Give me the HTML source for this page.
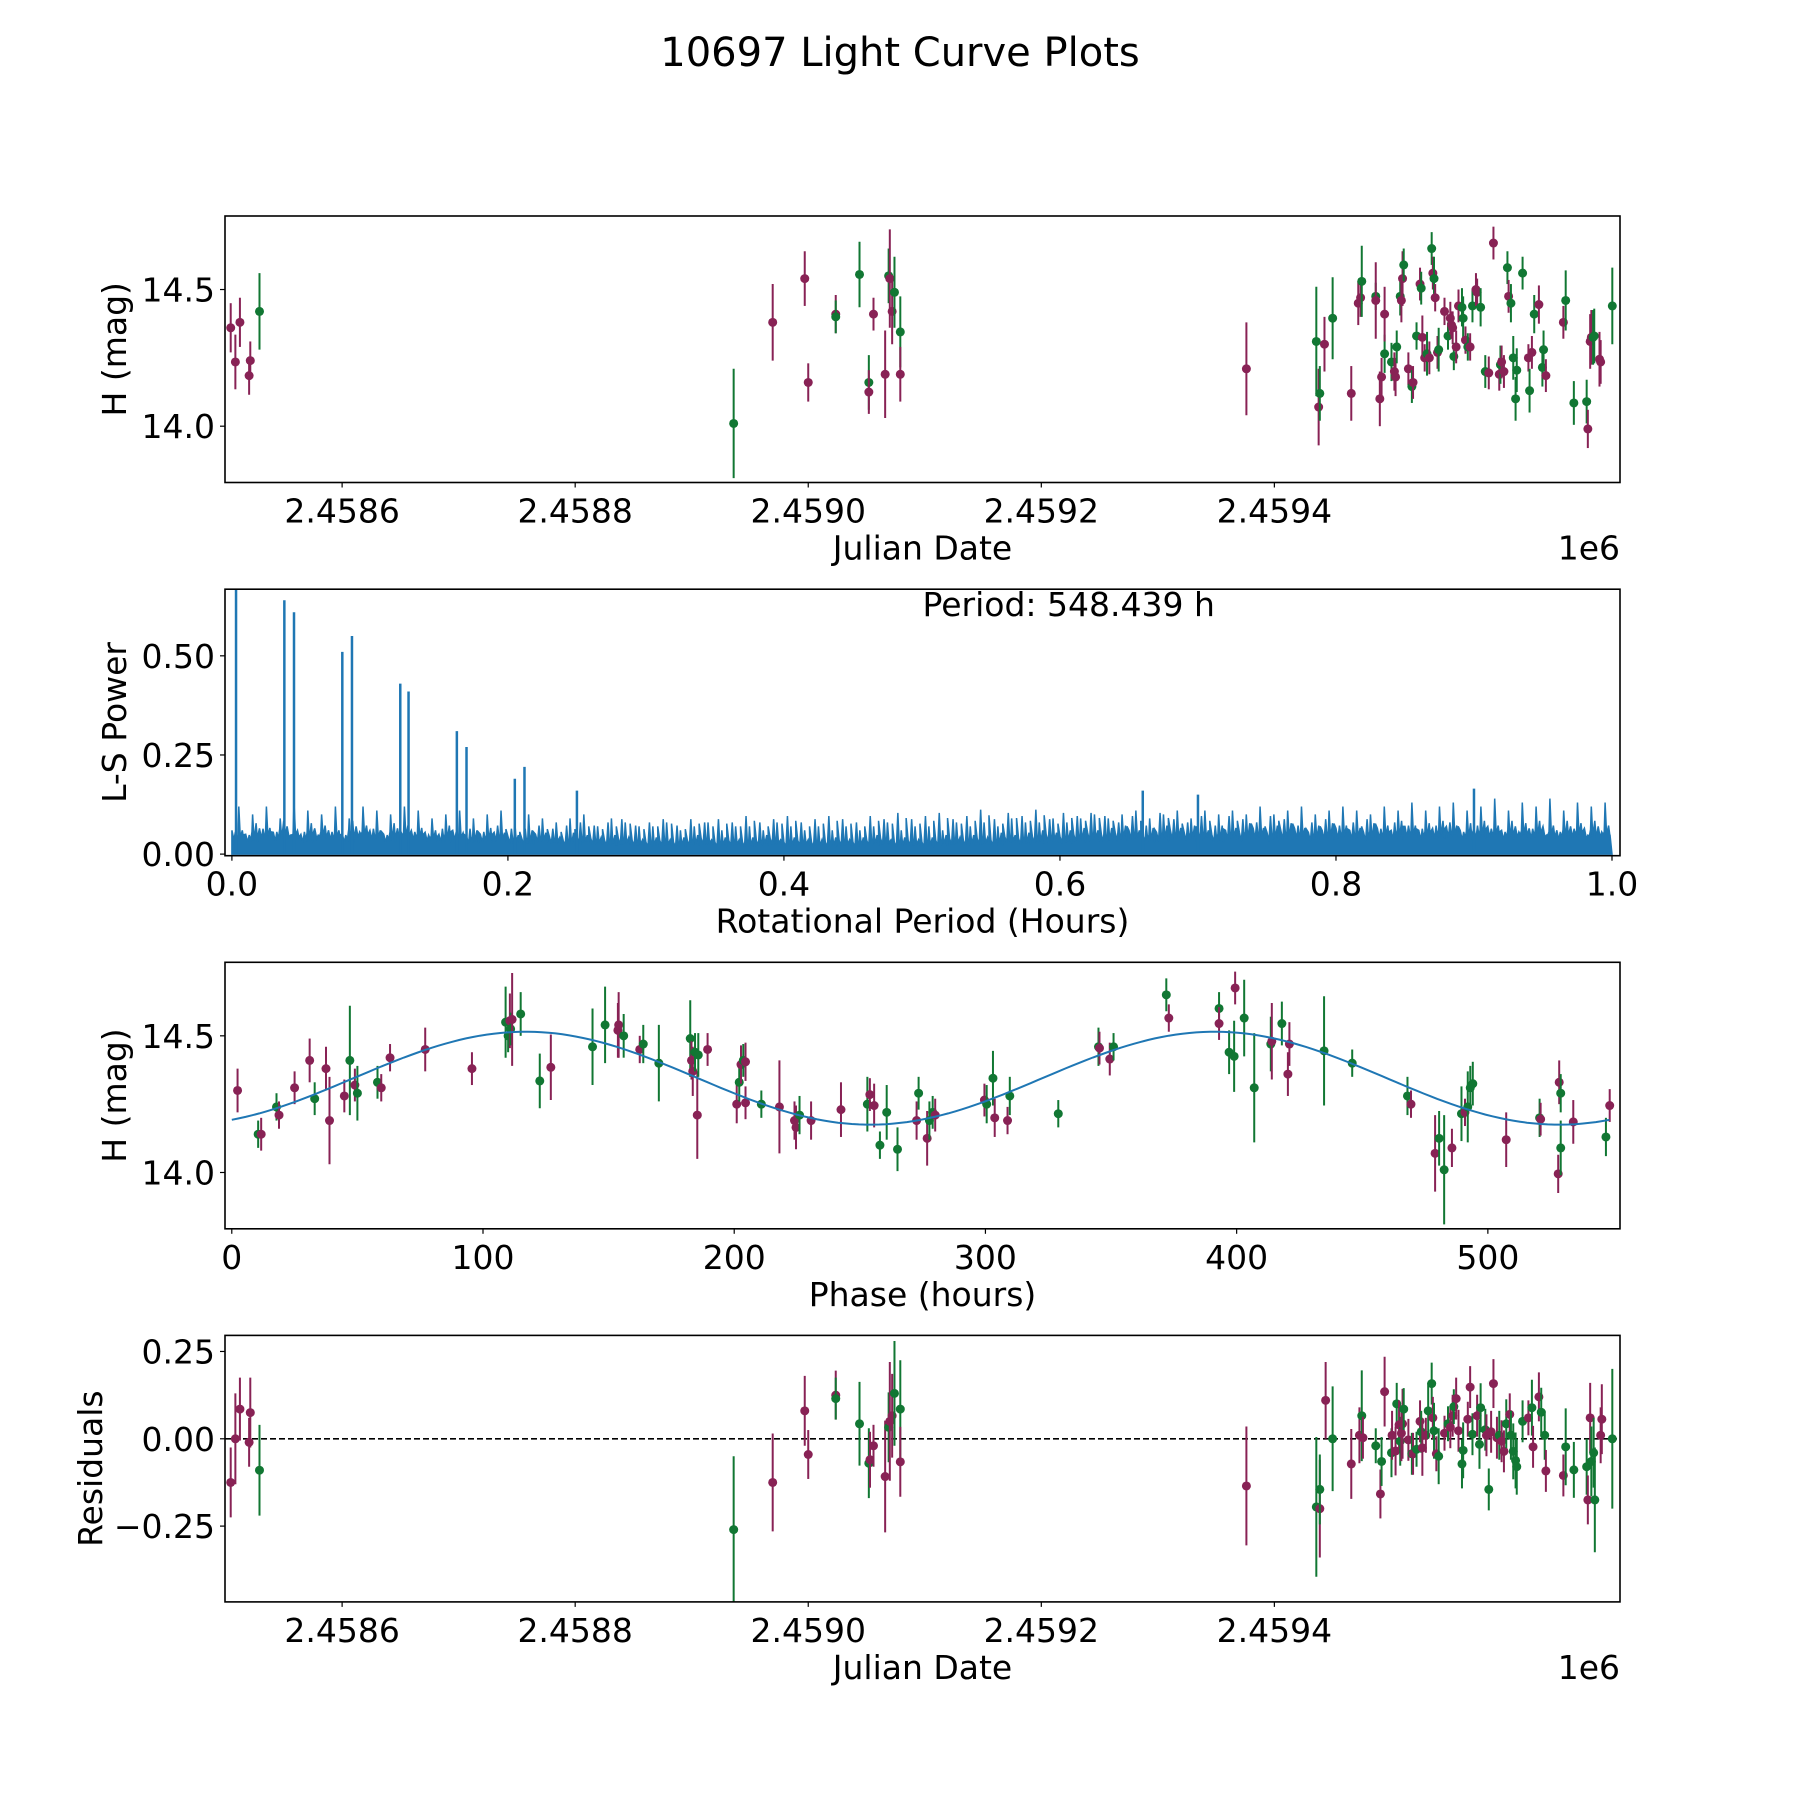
<!DOCTYPE html>
<html><head><meta charset="utf-8"><style>
html,body{margin:0;padding:0;background:#fff}
svg{display:block;font-family:"DejaVu Sans","Liberation Sans",sans-serif}
</style></head><body>
<svg id="fig" width="1800" height="1800" viewBox="0 0 1800 1800" xmlns="http://www.w3.org/2000/svg">
<rect width="1800" height="1800" fill="#fff"/>
<text x="900" y="66" font-size="40" text-anchor="middle">10697 Light Curve Plots</text>
</svg>
<script>
// ---------- data ----------
const lcDays=[-95.6,-91.6,-87.7,-79.8,-78.8,-70.9,336,369.5,397,400,423.6,423.6,444,452,452,456,466,469,470,472,474,479,479,776,836,838,839,843,850,866,872,874,875,887,887,890.5,892,894.6,894.6,900.5,903,904,905,908,909,910,911,915,918,919,922,925,926,927,929,931,933,935,936,937,938,940,941,946,949,951,952,953,954,956,958,961,962,964,966,968,970,973,974,977,981,984,988,993,994,995,997,1000,1001,1003,1005,1007,1008,1013,1018,1019,1021,1023,1027,1030,1031,1033,1048,1050,1057,1068,1069,1071,1072,1073.5,1074.5,1079,1080,1090];
const lcMag=[14.36,14.235,14.38,14.185,14.24,14.42,14.01,14.38,14.54,14.16,14.41,14.40,14.555,14.16,14.125,14.41,14.19,14.55,14.54,14.42,14.49,14.345,14.19,14.21,14.31,14.07,14.12,14.30,14.395,14.12,14.45,14.47,14.53,14.475,14.46,14.10,14.18,14.265,14.41,14.235,14.2,14.18,14.29,14.475,14.46,14.54,14.59,14.21,14.145,14.16,14.33,14.52,14.505,14.325,14.25,14.265,14.25,14.65,14.56,14.54,14.47,14.27,14.28,14.42,14.33,14.395,14.37,14.36,14.255,14.29,14.44,14.435,14.395,14.315,14.29,14.29,14.44,14.5,14.49,14.435,14.2,14.195,14.67,14.19,14.225,14.235,14.2,14.58,14.475,14.45,14.25,14.1,14.205,14.56,14.25,14.13,14.27,14.41,14.445,14.215,14.28,14.185,14.38,14.46,14.085,14.09,13.99,14.31,14.325,14.325,14.33,14.245,14.235,14.44];
const lcErr=[0.09,0.1,0.09,0.07,0.07,0.14,0.2,0.14,0.1,0.07,0.07,0.06,0.12,0.1,0.08,0.06,0.16,0.1,0.18,0.12,0.13,0.13,0.1,0.17,0.2,0.14,0.1,0.1,0.15,0.1,0.08,0.07,0.13,0.05,0.14,0.1,0.07,0.07,0.1,0.07,0.07,0.07,0.06,0.07,0.08,0.1,0.06,0.06,0.06,0.06,0.05,0.06,0.06,0.08,0.05,0.08,0.06,0.06,0.06,0.08,0.05,0.06,0.08,0.05,0.05,0.06,0.05,0.06,0.05,0.06,0.06,0.07,0.08,0.05,0.05,0.05,0.06,0.06,0.05,0.07,0.06,0.06,0.06,0.06,0.07,0.06,0.06,0.06,0.06,0.07,0.08,0.08,0.08,0.06,0.05,0.08,0.06,0.07,0.07,0.07,0.07,0.06,0.06,0.11,0.08,0.08,0.07,0.1,0.1,0.1,0.1,0.1,0.08,0.14];
const lcCol=[0,0,0,0,0,1,1,0,0,0,0,1,1,1,0,0,0,1,0,0,1,1,0,0,1,0,1,0,1,0,0,0,1,1,0,0,0,1,0,1,0,0,1,1,0,0,1,0,1,0,1,0,1,0,0,1,0,1,0,1,0,0,1,0,1,0,0,0,1,0,0,1,1,0,1,0,1,0,0,1,1,0,0,0,1,0,0,1,0,1,1,1,1,1,0,1,0,1,0,1,1,0,0,1,1,1,0,0,0,1,1,0,0,1];

const lsPeakPeriod=[0.003,0.038,0.045,0.080,0.087,0.122,0.128,0.163,0.170,0.205,0.212,0.250,0.660,0.700,0.900];
const lsPeakPower=[0.70,0.64,0.61,0.51,0.55,0.43,0.41,0.31,0.27,0.19,0.22,0.16,0.16,0.15,0.165];
const lsBase=[0.06,0.05,0.065,0.055,0.07,0.05,0.065,0.06,0.05,0.07,0.06,0.05,0.065,0.06,0.055,0.05,0.06,0.045,0.05,0.055,0.045,0.04,0.05,0.045,0.035,0.045,0.04,0.035,0.04,0.035,0.03,0.035,0.03,0.035,0.04,0.03,0.035,0.03,0.035,0.04,0.03,0.035,0.03,0.03,0.035,0.03,0.035,0.04,0.03,0.035,0.03,0.035,0.04,0.035,0.04,0.035,0.045,0.04,0.045,0.05,0.045,0.05,0.055,0.05,0.055,0.06,0.05,0.055,0.06,0.055,0.06,0.05,0.06,0.055,0.065,0.055,0.06,0.065,0.055,0.06,0.065,0.06,0.055,0.065,0.06,0.07,0.06,0.065,0.07,0.06,0.065,0.07,0.06,0.07,0.065,0.07,0.06,0.07,0.065,0.07];
const lsSpike=[0.12,0.10,0.12,0.09,0.13,0.11,0.10,0.12,0.09,0.12,0.11,0.10,0.12,0.11,0.09,0.10,0.11,0.09,0.10,0.11,0.08,0.10,0.09,0.08,0.09,0.10,0.07,0.09,0.08,0.07,0.07,0.08,0.06,0.07,0.08,0.06,0.07,0.07,0.06,0.08,0.07,0.06,0.07,0.06,0.07,0.06,0.07,0.08,0.06,0.07,0.07,0.06,0.08,0.07,0.08,0.07,0.09,0.08,0.08,0.09,0.08,0.09,0.10,0.09,0.10,0.11,0.09,0.10,0.11,0.09,0.11,0.10,0.11,0.10,0.12,0.10,0.11,0.12,0.10,0.11,0.12,0.11,0.10,0.12,0.11,0.13,0.11,0.12,0.13,0.11,0.12,0.14,0.11,0.13,0.12,0.14,0.11,0.13,0.12,0.13];

const phPhase=[2.3,10.5,11.7,17.8,18.8,25,31,33,37.5,38.9,44.8,47,49,50,58,59.5,63,77,95.6,109,110,110.7,111,111.6,115,122.6,127,143.6,148.6,153.7,154,156,162.4,163.8,170,182.5,183,183.5,184.4,185.3,185.7,189.4,201,202,202.7,203.6,204.5,204.5,210.8,218,224,224.6,226,230.6,242.5,253,254,255.7,258,260.7,265,272.6,273.4,276.8,277.7,279,280,299.6,300.5,303,303.7,308.8,309.7,329,345,345.4,349.5,351,372,373,393,393,397,399,399.4,403,407,413.6,414,418,420.4,421,434.8,446,468,469.4,479,480.6,482.6,485.7,489.5,490.9,492,493,494,507.3,520.6,521,528,529,528.4,529,534,547,548.5];
const phMag=[14.30,14.14,14.14,14.24,14.21,14.31,14.41,14.27,14.38,14.19,14.28,14.41,14.32,14.29,14.33,14.31,14.42,14.45,14.38,14.55,14.5,14.555,14.525,14.56,14.58,14.335,14.385,14.46,14.54,14.52,14.54,14.5,14.45,14.47,14.40,14.49,14.41,14.37,14.44,14.21,14.43,14.45,14.25,14.33,14.395,14.41,14.255,14.405,14.25,14.24,14.19,14.165,14.21,14.19,14.23,14.25,14.285,14.245,14.10,14.22,14.085,14.19,14.29,14.125,14.19,14.22,14.21,14.265,14.25,14.345,14.2,14.19,14.28,14.215,14.46,14.455,14.415,14.46,14.65,14.565,14.6,14.545,14.44,14.425,14.675,14.565,14.31,14.47,14.48,14.545,14.36,14.47,14.445,14.4,14.28,14.25,14.07,14.125,14.01,14.09,14.215,14.22,14.24,14.31,14.325,14.12,14.2,14.195,13.995,14.09,14.33,14.29,14.185,14.13,14.245];
const phErr=[0.08,0.05,0.06,0.05,0.05,0.06,0.08,0.06,0.08,0.16,0.06,0.2,0.06,0.1,0.06,0.05,0.05,0.08,0.06,0.13,0.06,0.1,0.06,0.17,0.08,0.1,0.12,0.14,0.14,0.1,0.12,0.08,0.05,0.07,0.14,0.14,0.07,0.09,0.07,0.16,0.08,0.06,0.07,0.07,0.07,0.06,0.06,0.07,0.05,0.17,0.07,0.08,0.07,0.07,0.1,0.1,0.06,0.08,0.05,0.1,0.08,0.07,0.06,0.1,0.07,0.06,0.06,0.06,0.07,0.1,0.07,0.05,0.07,0.05,0.07,0.06,0.06,0.05,0.06,0.05,0.06,0.06,0.08,0.13,0.06,0.14,0.2,0.1,0.14,0.08,0.08,0.08,0.2,0.05,0.07,0.05,0.14,0.1,0.2,0.07,0.1,0.05,0.13,0.08,0.08,0.1,0.07,0.06,0.07,0.1,0.08,0.07,0.08,0.07,0.06];
const phCol=[0,1,0,1,0,0,0,1,0,0,0,1,0,1,1,0,0,0,0,1,1,0,1,0,1,1,0,1,1,0,0,1,0,1,1,1,0,0,1,0,1,0,0,1,0,1,0,0,1,0,0,0,1,0,0,1,0,0,1,1,1,0,1,0,1,1,0,0,1,1,0,0,1,1,1,0,0,1,1,0,1,0,1,1,0,1,1,1,0,1,0,0,1,1,1,0,0,1,1,0,1,0,1,1,1,0,1,0,0,1,0,1,0,1,0];
const fitMean=14.345, fitAmp=0.17, fitPeak=117, fitPeriod=274.22;

const resDays=[-95.6,-91.6,-87.7,-79.8,-78.8,-70.9,336,369.5,397,400,423.6,423.6,444,452,453,456,466,469,470,472,474,479,479,776,836,839,839,844,850,866,873,875,876,887,891,892,894.6,900.5,901,904,905,907,908,909,910,911,915,918,919,922,925,926,927,930,932,935,936,937,939,941,946,949,951,953,954,956,958,961,962,966,968,970,974,976,977,981,982,984,986,988,991,993,995,997,999,1002,1003,1005,1007,1008,1013,1018,1021,1022,1027,1029,1032,1033,1048,1050,1057,1068,1069,1071,1072,1074,1075,1080,1081,1090];
const resVal=[-0.125,0.0,0.085,-0.01,0.075,-0.09,-0.26,-0.125,0.08,-0.045,0.125,0.115,0.043,-0.07,-0.06,-0.02,-0.108,0.033,0.05,0.066,0.13,0.085,-0.066,-0.135,-0.195,-0.2,-0.145,0.11,0.0,-0.072,0.01,0.066,0.003,-0.02,-0.158,-0.065,0.135,-0.04,0.01,-0.035,0.1,0.04,-0.007,0.016,0.043,0.085,-0.003,-0.043,-0.043,-0.03,0.05,0.02,-0.026,0.01,0.08,0.158,0.06,0.023,-0.043,-0.05,0.016,0.043,0.033,0.066,0.092,0.115,0.023,-0.072,-0.033,0.056,0.148,0.013,0.066,-0.016,0.089,0.026,0.01,-0.145,0.02,0.158,0.003,0.01,-0.007,-0.036,0.043,0.07,0.01,-0.036,-0.062,-0.08,0.05,0.06,0.089,-0.023,0.12,0.076,0.01,-0.092,-0.105,-0.023,-0.089,-0.08,-0.175,0.06,-0.065,-0.04,-0.175,0.01,0.056,0.0];
const resErr=[0.1,0.13,0.09,0.07,0.1,0.13,0.21,0.14,0.1,0.07,0.07,0.06,0.12,0.1,0.08,0.06,0.16,0.1,0.17,0.12,0.15,0.14,0.1,0.17,0.2,0.14,0.1,0.11,0.15,0.1,0.08,0.13,0.06,0.05,0.07,0.07,0.1,0.07,0.07,0.07,0.06,0.07,0.07,0.08,0.1,0.06,0.06,0.06,0.06,0.05,0.06,0.06,0.08,0.05,0.08,0.06,0.06,0.08,0.05,0.08,0.05,0.05,0.06,0.06,0.05,0.06,0.06,0.07,0.08,0.05,0.06,0.06,0.06,0.07,0.07,0.06,0.06,0.06,0.06,0.07,0.06,0.07,0.06,0.06,0.07,0.06,0.07,0.08,0.08,0.08,0.06,0.05,0.08,0.06,0.07,0.07,0.07,0.06,0.06,0.11,0.08,0.08,0.07,0.1,0.1,0.1,0.15,0.08,0.1,0.2];
const resCol=[0,0,0,0,0,1,1,0,0,0,0,1,1,1,0,0,0,1,0,0,1,1,0,0,1,0,1,0,1,0,0,1,0,1,0,1,0,1,0,0,1,0,1,0,0,1,0,1,0,1,0,1,0,0,1,1,0,1,0,1,0,1,0,0,1,0,0,1,1,0,0,1,0,1,1,1,0,1,0,0,0,1,0,0,1,0,1,1,1,1,1,0,1,0,0,1,1,0,0,1,1,1,0,0,1,1,1,0,0,1];

const jdTicks=[2458600,2458800,2459000,2459200,2459400];
const jdTickLabels=["2.4586","2.4588","2.4590","2.4592","2.4594"];
const magTicks=[14.0,14.5];
const magTickLabels=["14.0","14.5"];
const lsXTicks=[0,0.2,0.4,0.6,0.8,1.0];
const lsXTickLabels=["0.0","0.2","0.4","0.6","0.8","1.0"];
const lsYTicks=[0,0.25,0.5];
const lsYTickLabels=["0.00","0.25","0.50"];
const phXTicks=[0,100,200,300,400,500];
const phXTickLabels=["0","100","200","300","400","500"];
const resYTicks=[-0.25,0,0.25];
const resYTickLabels=["\u22120.25","0.00","0.25"];

// ---------- drawing ----------
const NS="http://www.w3.org/2000/svg";
const fig=document.getElementById('fig');
const COLORS=["#882255","#117733"];
function mk(tag,attrs,parent){const e=document.createElementNS(NS,tag);for(const k in attrs)e.setAttribute(k,attrs[k]);(parent||fig).appendChild(e);return e;}
const L=225,R=1620,H=266.5;
const tops=[216,589.2,962.3,1335.4];
function lin(d0,d1,r0,r1){return v=>r0+(v-d0)*(r1-r0)/(d1-d0);}

function axesFrame(i,name){
  const g=mk('g',{});
  
  
  const cid='clip'+i;
  const cp=mk('clipPath',{id:cid},g);
  mk('rect',{x:L,y:tops[i],width:R-L,height:H},cp);
  const plot=mk('g',{'clip-path':'url(#'+cid+')'},g);
  return {g,plot};
}
function frameBorder(g,i){
  const r=mk('rect',{x:L,y:tops[i],width:R-L,height:H,fill:'none',stroke:'#000','stroke-width':1.6},g);
  
  
}
function xTicks(g,i,sx,ticks,labels){
  const b=tops[i]+H;
  ticks.forEach((t,k)=>{
    const x=sx(t);
    mk('line',{x1:x,x2:x,y1:b,y2:b+5,stroke:'#000','stroke-width':1.2},g);
    const tx=mk('text',{x:x,y:b+40,'font-size':33,'text-anchor':'middle'},g);
    tx.textContent=labels[k];
    
    
  });
}
function yTicks(g,i,sy,ticks,labels){
  ticks.forEach((t,k)=>{
    const y=sy(t);
    mk('line',{x1:L-5,x2:L,y1:y,y2:y,stroke:'#000','stroke-width':1.2},g);
    const tx=mk('text',{x:L-10,y:y+12,'font-size':33,'text-anchor':'end'},g);
    tx.textContent=labels[k];
    
    
  });
}
function xLabel(g,i,txt,name){
  const t=mk('text',{x:(L+R)/2,y:tops[i]+H+77,'font-size':33,'text-anchor':'middle'},g);
  t.textContent=txt;
  
  
}
function yLabel(g,i,txt,x,name){
  const cy=tops[i]+H/2;
  const t=mk('text',{x:x,y:cy,'font-size':33,'text-anchor':'middle',transform:'rotate(-90 '+x+' '+cy+')'},g);
  t.textContent=txt;
  
  
}
function offsetLabel(g,i){
  const t=mk('text',{x:R,y:tops[i]+H+77,'font-size':33,'text-anchor':'end'},g);
  t.textContent='1e6';
  
  
}
function errPoints(plot,xs,ys,es,cs,sx,sy){
  xs.forEach((xv,k)=>{
    const x=sx(xv),c=COLORS[cs[k]];
    const l=mk('line',{x1:x,x2:x,y1:sy(ys[k]-es[k]),y2:sy(ys[k]+es[k]),stroke:c,'stroke-width':2},plot);
    
    
    const p=mk('circle',{cx:x,cy:sy(ys[k]),r:4.5,fill:c},plot);
    
    
  });
}

// panel 1
(function(){
  const i=0,{g,plot}=axesFrame(i,'light-curve-panel');
  const sx=lin(2458499.5,2459696.6,L,R), sy=lin(13.794,14.769,tops[i]+H,tops[i]);
  errPoints(plot,lcDays.map(d=>d+2458600),lcMag,lcErr,lcCol,sx,sy);
  frameBorder(g,i);xTicks(g,i,sx,jdTicks,jdTickLabels);yTicks(g,i,sy,magTicks,magTickLabels);
  xLabel(g,i,'Julian Date','x-axis-title');offsetLabel(g,i);yLabel(g,i,'H (mag)',126,'y-axis-title');
})();

// panel 2
(function(){
  const i=1,{g,plot}=axesFrame(i,'periodogram-panel');
  const sx=lin(-0.005,1.0058,L,R), sy=lin(-0.004,0.668,tops[i]+H,tops[i]);
  const n=lsBase.length,w=1/n;
  let d='M'+sx(0)+','+sy(0);
  lsBase.forEach((v,k)=>{
    const x0=sx(k*w),x1=sx((k+1)*w),xm=sx((k+0.5)*w);
    const nb=lsBase[(k+1)%n], sp=lsSpike[(k+37)%n];
    d+=' L'+x0+','+sy(v)+' L'+(x0+2)+','+sy(v*0.6)+' L'+(x0+3.5)+','+sy(sp*0.8)+' L'+(x0+5)+','+sy(v*0.7)+' L'+(x0+7)+','+sy(nb*1.05)+' L'+(xm-1)+','+sy(v*0.65)+' L'+(xm)+','+sy(lsSpike[k])+' L'+(xm+1.5)+','+sy(v*0.7)+' L'+(xm+3.5)+','+sy(nb*1.2)+' L'+(xm+5)+','+sy(v*0.6)+' L'+(x1-2)+','+sy(sp*0.7);
  });
  d+=' L'+sx(1)+','+sy(0)+' Z';
  const area=mk('path',{d:d,fill:'#1f77b4',stroke:'#1f77b4','stroke-width':1.5,'stroke-linejoin':'miter'},plot);
  
  
  lsPeakPeriod.forEach((p,k)=>{
    const x=sx(p);
    const l=mk('line',{x1:x,x2:x,y1:sy(0),y2:sy(lsPeakPower[k]),stroke:'#1f77b4','stroke-width':2.5},plot);
    
    
  });
  frameBorder(g,i);xTicks(g,i,sx,lsXTicks,lsXTickLabels);yTicks(g,i,sy,lsYTicks,lsYTickLabels);
  xLabel(g,i,'Rotational Period (Hours)','x-axis-title');yLabel(g,i,'L-S Power',126,'y-axis-title');
  const t=mk('text',{x:(L+R)/2,y:tops[i]+27,'font-size':33},g);
  t.textContent='Period: 548.439 h';
  
  
})();

// panel 3
(function(){
  const i=2,{g,plot}=axesFrame(i,'phased-curve-panel');
  const sx=lin(-2.7,552.6,L,R), sy=lin(13.794,14.769,tops[i]+H,tops[i]);
  errPoints(plot,phPhase,phMag,phErr,phCol,sx,sy);
  let d='';
  for(let k=0;k<=200;k++){const x=k*548.439/200;const y=fitMean+fitAmp*Math.cos(2*Math.PI*(x-fitPeak)/fitPeriod);d+=(k?' L':'M')+sx(x).toFixed(1)+','+sy(y).toFixed(1);}
  const fit=mk('path',{d:d,fill:'none',stroke:'#1f77b4','stroke-width':2},plot);
  
  
  frameBorder(g,i);xTicks(g,i,sx,phXTicks,phXTickLabels);yTicks(g,i,sy,magTicks,magTickLabels);
  xLabel(g,i,'Phase (hours)','x-axis-title');yLabel(g,i,'H (mag)',126,'y-axis-title');
})();

// panel 4
(function(){
  const i=3,{g,plot}=axesFrame(i,'residuals-panel');
  const sx=lin(2458499.5,2459696.6,L,R), sy=lin(-0.467,0.296,tops[i]+H,tops[i]);
  const z=mk('line',{x1:L,x2:R,y1:sy(0),y2:sy(0),stroke:'#000','stroke-width':1.6,'stroke-dasharray':'6,3'},plot);
  
  
  errPoints(plot,resDays.map(d=>d+2458600),resVal,resErr,resCol,sx,sy);
  frameBorder(g,i);xTicks(g,i,sx,jdTicks,jdTickLabels);yTicks(g,i,sy,resYTicks,resYTickLabels);
  xLabel(g,i,'Julian Date','x-axis-title');offsetLabel(g,i);yLabel(g,i,'Residuals',102,'y-axis-title');
})();
</script>
</body></html>
